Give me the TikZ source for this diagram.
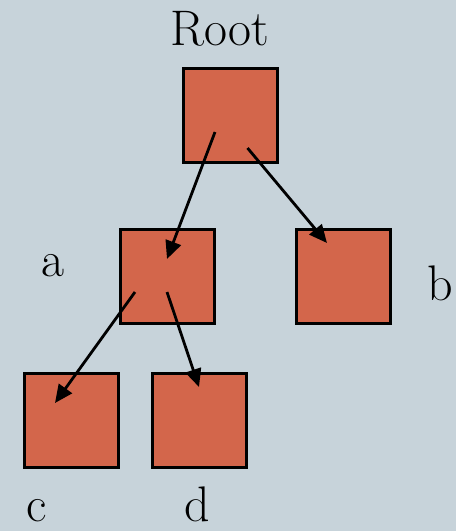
\documentclass[tikz,border=0pt]{standalone}
\usepackage{tikz}
\usetikzlibrary{arrows.meta,calc,positioning}
\usepackage{xcolor}
\definecolor{slate}{RGB}{199,211,218}
\definecolor{brick}{RGB}{211,102,75}

\tikzset{
  treebox/.style={draw=black,line width=1.5pt,fill=brick,minimum size=47pt,inner sep=0pt},
  treelabel/.style={anchor=base,font=\fontsize{25}{30}\selectfont},
  treearrow/.style={line width=1.4pt,-{Triangle[length=9pt,width=8pt]}}
}

\begin{document}
\begin{tikzpicture}[x=0.5pt,y=-0.5pt]
\fill[slate] (0,0) rectangle (456,531);
\useasboundingbox (0,0) rectangle (456,531);
% the boxes of the tree
\node[treebox] (root) at (230.5,115.5) {};
\node[treebox] (a) at (167,276) {};
\node[treebox] (b) at (343,276) {};
\node[treebox] (c) at (71,420) {};
\node[treebox] (d) at (199,420) {};
% their names
\node[treelabel] (rootname) at (220,45) {Root};
\node[treelabel] (aname) at (53,276) {a};
\node[treelabel] (bname) at (440,300) {b};
\node[treelabel] (cname) at (37,521) {c};
\node[treelabel] (dname) at (197,521) {d};
% arrows from parent to child
\draw[treearrow] ($(root.center)+(-15.5,16.5)$) -- ($(a.center)+(0,-17)$);
\draw[treearrow] ($(root.center)+(17,32.5)$) -- ($(b.center)+(-16,-33)$);
\draw[treearrow] ($(a.center)+(-32,16)$) -- ($(c.center)+(-16,-17)$);
\draw[treearrow] ($(a.center)+(0,16)$) -- ($(d.center)+(0,-33)$);
\end{tikzpicture}
\end{document}
